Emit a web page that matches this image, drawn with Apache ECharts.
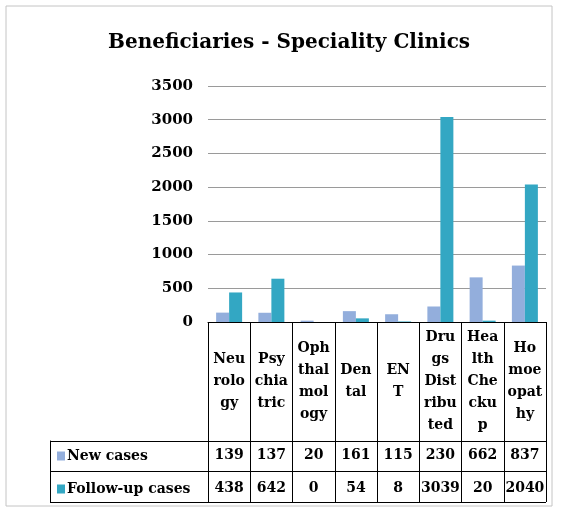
<!DOCTYPE html>
<html>
<head>
<meta charset="utf-8">
<title>Beneficiaries - Speciality Clinics</title>
<script src="https://cdn.jsdelivr.net/npm/echarts@6/dist/echarts.min.js"></script>
<style>
  html, body { margin: 0; padding: 0; background: #fff; }
  #chart { width: 563px; height: 510px; }
</style>
</head>
<body>
<div id="chart"></div>
<script>
// clinic names, wrapped the way the data table shows them
const clinics = ['Neurology', 'Psychiatric', 'Ophthalmology', 'Dental', 'ENT',
  'Drugs Distributed', 'Health Checkup', 'Homoeopathy'];
const clinicLabels = ['Neu\nrolo\ngy', 'Psy\nchia\ntric', 'Oph\nthal\nmol\nogy', 'Den\ntal', 'EN\nT',
  'Dru\ngs\nDist\nribu\nted', 'Hea\nlth\nChe\ncku\np', 'Ho\nmoe\nopat\nhy'];
const newCases = [139, 137, 20, 161, 115, 230, 662, 837];
const followUpCases = [438, 642, 0, 54, 8, 3039, 20, 2040];
const seriesNames = ['New cases', 'Follow-up cases'];
const rowNames = ['Follow-up cases', 'New cases']; // bottom to top for the table grid

const serif = '"DejaVu Serif", serif';
const boldText = { fontFamily: serif, fontWeight: 'bold', fontSize: 14, color: '#000' };

const chart = echarts.init(document.getElementById('chart'));

const option = {
  animation: false,
  backgroundColor: '#fff',
  title: {
    text: 'Beneficiaries - Speciality Clinics',
    left: 103,
    top: 28,
    textStyle: { fontFamily: serif, fontWeight: 'bold', fontSize: 20, color: '#000' }
  },
  legend: {
    orient: 'vertical',
    left: 52,
    top: 444,
    itemWidth: 8,
    itemHeight: 9,
    itemGap: 19,
    icon: 'rect',
    data: seriesNames,
    textStyle: Object.assign({}, boldText, { padding: [0, 0, 0, -3] })
  },
  graphic: [{
    type: 'rect',
    shape: { x: 6, y: 6, width: 546, height: 500 },
    style: { fill: null, stroke: '#c4c4c4', lineWidth: 1 },
    silent: true
  }],
  grid: [
    { left: 208, top: 86, width: 338, height: 236 },
    { left: 50, top: 441, width: 496, height: 61 }
  ],
  xAxis: [
    {
      type: 'category',
      gridIndex: 0,
      data: clinics,
      axisLine: { lineStyle: { color: '#000', width: 1 } },
      axisTick: { show: true, interval: 0, length: 180, lineStyle: { color: '#000', width: 1 } },
      axisLabel: Object.assign({}, boldText, {
        interval: 0,
        margin: 59,
        lineHeight: 22,
        verticalAlign: 'middle',
        formatter: (v, i) => clinicLabels[i]
      })
    },
    {
      type: 'category',
      gridIndex: 0,
      position: 'bottom',
      offset: 119,
      data: newCases.map(String),
      axisLine: { show: false },
      axisTick: { show: false },
      axisLabel: Object.assign({}, boldText, { interval: 0, margin: 14, verticalAlign: 'middle' })
    },
    {
      type: 'category',
      gridIndex: 0,
      position: 'bottom',
      offset: 149,
      data: followUpCases.map(String),
      axisLine: { show: false },
      axisTick: { show: false },
      axisLabel: Object.assign({}, boldText, { interval: 0, margin: 17, verticalAlign: 'middle' })
    },
    {
      type: 'value',
      gridIndex: 1,
      show: false
    }
  ],
  yAxis: [
    {
      type: 'value',
      gridIndex: 0,
      min: 0,
      max: 3500,
      interval: 500,
      axisLine: { show: false },
      axisTick: { show: false },
      splitLine: { lineStyle: { color: '#9a9a9a', width: 1 } },
      axisLabel: Object.assign({}, boldText, { margin: 15, fontSize: 15, formatter: v => String(v) })
    },
    {
      type: 'category',
      gridIndex: 1,
      data: rowNames,
      axisLine: { show: true, lineStyle: { color: '#000' } },
      axisTick: { show: false },
      axisLabel: { show: false },
      splitLine: { show: true, interval: 0, lineStyle: { color: '#000', width: 1 } }
    }
  ],
  series: [
    {
      name: seriesNames[0],
      type: 'bar',
      xAxisIndex: 0,
      yAxisIndex: 0,
      data: newCases,
      barWidth: 13,
      barGap: '0%',
      itemStyle: { color: '#93aedc' }
    },
    {
      name: seriesNames[1],
      type: 'bar',
      xAxisIndex: 0,
      yAxisIndex: 0,
      data: followUpCases,
      barWidth: 13,
      barGap: '0%',
      itemStyle: { color: '#33a7c3' }
    }
  ]
};

chart.setOption(option);
</script>
</body>
</html>
